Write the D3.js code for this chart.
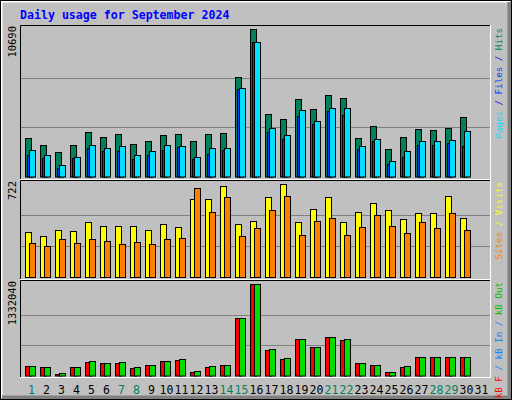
<!DOCTYPE html>
<html><head><meta charset="utf-8">
<script src="https://cdn.jsdelivr.net/npm/d3@7"></script>
<style>body{margin:0;background:#fff}svg{display:block}</style>
</head><body><svg id="chart" width="512" height="400"></svg>
<script>
const days = d3.range(1, 32);
const weekends = [1, 7, 8, 14, 15, 21, 22, 28, 29];
const hits = [2774,2266,1757,2266,3210,2847,3065,2338,2556,2992,3065,2556,3065,3137,7204,10690,4517,4154,5606,4880,5897,5679,2774,3646,1975,2847,3428,3355,3500,4299,0];
const files = [1540,1322,595,1322,2048,1830,1830,1249,1540,1903,2121,1249,1612,1903,6332,9746,3210,2701,4372,3791,4735,4444,1975,2556,886,1394,2266,2266,2411,2193,0];
const pages = [1903,1540,813,1394,2266,2048,2193,1540,1830,2266,2193,1394,2048,2048,6405,9746,3500,2992,4807,4009,4953,4953,2193,2701,1104,1830,2556,2556,2629,3282,0];
const visits = [347,316,363,355,432,401,394,401,363,409,386,611,606,712,409,440,621,722,425,533,621,432,510,580,518,448,502,502,634,456,0];
const sites = [262,238,293,262,293,277,254,269,254,293,300,696,510,626,316,378,518,634,324,440,463,324,386,479,401,339,432,378,495,363,0];
const kbIn = [134375,119769,17527,119769,192799,178193,178193,105163,148981,207405,222011,46739,119769,148981,835463,1332040,368071,236617,528737,411889,557949,514131,178193,148981,46739,119769,265829,265829,265829,265829,0];
const kbOut = [134375,119769,32133,119769,207405,178193,192799,119769,148981,207405,236617,61345,134375,148981,835463,1332040,382677,251223,528737,411889,557949,528737,178193,148981,46739,134375,265829,265829,265829,265829,0];

const svg = d3.select('#chart');
const mono = 'DejaVu Sans Mono';

// frame
svg.append('rect').attr('width', 512).attr('height', 400).attr('fill', '#c0c0c0');
svg.append('path').attr('d', 'M1,398V1H510').attr('stroke', '#fff').attr('stroke-width', 3).attr('fill', 'none');
svg.append('path').attr('d', 'M2,397.5H509.5V2').attr('stroke', '#808080').attr('stroke-width', 4).attr('fill', 'none');
svg.append('rect').attr('x', 0.5).attr('y', 0.5).attr('width', 511).attr('height', 399).attr('fill', 'none').attr('stroke', '#000');

svg.append('text').attr('x', 20).attr('y', 19).text('Daily usage for September 2024')
    .attr('font-family', mono).attr('font-weight', 'bold').attr('font-size', 11.6).attr('fill', '#0000ff');

const x = d3.scaleBand().domain(days).range([20, 485]).paddingInner(0);
const left = 20, right = 491;

function panel(top, bottom, barBottom, barTop, max) {
    const y = d3.scaleLinear().domain([0, max]).range([barBottom, barTop]);
    const g = svg.append('g');
    g.append('path').attr('d', `M${left + 0.5},${bottom}V${top + 0.5}H${right}`).attr('stroke', '#000').attr('fill', 'none');
    g.append('path').attr('d', `M${left},${bottom - 0.5}H${right - 0.5}V${top}`).attr('stroke', '#fff').attr('fill', 'none');
    [1, 2].forEach(k => {
        g.append('line').attr('x1', left + 1).attr('x2', right - 1)
            .attr('y1', Math.round(y(max * k / 3)) + 0.5).attr('y2', Math.round(y(max * k / 3)) + 0.5)
            .attr('stroke', '#808080').attr('stroke-width', 1.2);
    });
    g.append('text').attr('transform', `translate(${left - 4},${top + 1}) rotate(-90)`)
        .attr('text-anchor', 'end').attr('font-family', mono).attr('font-size', 10.5).attr('fill', '#000').text(max);
    return {g, y};
}

function bars(p, data, dx, w, color) {
    p.g.selectAll(null).data(data.map((v, i) => ({v, d: days[i]})).filter(o => o.v > 0)).enter().append('rect')
        .attr('x', o => x(o.d) + dx + 0.5).attr('width', w)
        .attr('y', o => Math.round(p.y(o.v)) + 0.5).attr('height', o => p.y(0) - Math.round(p.y(o.v)))
        .attr('fill', color).attr('stroke', '#000').attr('stroke-width', 1);
}

function legend(yEnd, parts) {
    const t = svg.append('text').attr('transform', `translate(502,${yEnd}) rotate(-90)`)
        .attr('text-anchor', 'end').attr('font-family', mono).attr('font-size', 9.2);
    parts.forEach(([s, c]) => t.append('tspan').attr('fill', c).text(s));
}

const p1 = panel(25, 180, 176.5, 29.3, d3.max(hits));
bars(p1, hits, 5, 6, '#00805c');
bars(p1, files, 7, 6, '#0040ff');
bars(p1, pages, 9, 6, '#00e0ff');
legend(28, [['Pages', '#00e0ff'], [' / ', '#0000ff'], ['Files', '#0040ff'], [' / ', '#0000ff'], ['Hits', '#00805c']]);

const p2 = panel(180, 280, 277, 184.3, d3.max(visits));
bars(p2, visits, 5, 6, '#ffff00');
bars(p2, sites, 9, 6, '#ff8000');
legend(182, [['Sites', '#ff8000'], [' / ', '#ffff00'], ['Visits', '#ffff00']]);

const p3 = panel(280, 378, 375.5, 284.3, d3.max(kbOut));
bars(p3, kbIn, 5, 6, '#ff0000');
bars(p3, kbOut, 9, 6, '#00e000');
legend(282, [['kB F', '#ff0000'], [' / ', '#0080ff'], ['kB In', '#0080ff'], [' / ', '#0080ff'], ['kB Out', '#00c000']]);

svg.selectAll('.day').data(days).enter().append('text')
    .attr('x', d => x(d) + 11.5).attr('y', 394).attr('text-anchor', 'middle')
    .attr('font-family', mono).attr('font-size', 11.5)
    .attr('fill', d => weekends.includes(d) ? '#00805c' : '#000').text(d => d);
</script></body></html>
